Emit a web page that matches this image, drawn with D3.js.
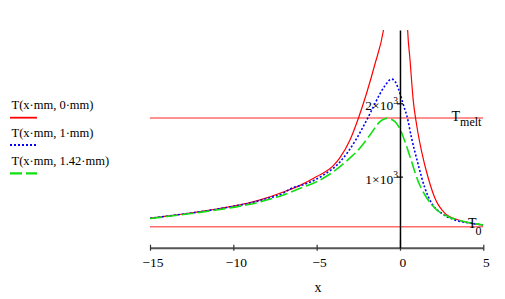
<!DOCTYPE html>
<html lang="en">
<head>
    <meta charset="UTF-8">
    <title>Temperature profiles T(x, y)</title>
    <script src="https://d3js.org/d3.v7.min.js"></script>
    <style>
        body {
            margin: 0;
            background: #fff;
        }
        svg {
            display: block;
            font-family: "Liberation Serif", "Times New Roman", serif;
        }
    </style>
</head>
<body>
    <svg width="505" height="299"></svg>

    <script>
        // values: x in mm, T in K
        const redLeftX  = [-15, -14, -13, -12, -11, -10, -9, -8, -7, -6, -5, -4, -3.6, -3, -2.5, -2, -1.5, -1, -0.8];
        const redLeftT  = [431, 460, 490, 522, 558, 598, 645, 710, 790, 880, 1000, 1150, 1260, 1500, 1793, 2140, 2536, 2986, 3300];
        const redRightX = [0.4, 0.46, 0.6, 0.8, 1.0, 1.3, 1.7, 2.1, 2.7, 3.5, 4.3, 5.0];
        const redRightT = [3350, 3000, 2600, 2030, 1704, 1340, 977, 704, 499, 408, 363, 340];

        const blueX = [-15, -14, -13, -12, -11, -10, -9, -8, -7, -6.6, -5.6, -4.6, -3.6, -2.6, -2, -1.6, -1.2, -0.9, -0.5, -0.3, -0.1, 0.1, 0.3, 0.4, 0.7, 1.1, 1.5, 1.9, 2.5, 3.3, 4.3, 5.0];
        const blueT = [431, 460, 489, 520, 555, 594, 640, 700, 775, 830, 905, 1020, 1200, 1520, 1770, 1950, 2130, 2240, 2330, 2300, 2200, 2060, 1910, 1840, 1522, 1158, 840, 636, 499, 408, 363, 340];

        const greenX = [-15, -14, -13, -12, -11, -10, -9, -8, -7, -6, -5, -4, -3, -2.6, -1.8, -1.2, -0.8, -0.3, 0, 0.3, 0.7, 1.1, 1.5, 2.1, 2.9, 3.9, 5.0];
        const greenT = [428, 455, 483, 512, 545, 580, 622, 681, 749, 840, 930, 1065, 1255, 1340, 1568, 1749, 1795, 1749, 1650, 1476, 1203, 930, 749, 568, 453, 385, 340];

        const legendNames = ["T(x\u00b7mm, 0\u00b7mm)", "T(x\u00b7mm, 1\u00b7mm)", "T(x\u00b7mm, 1.42\u00b7mm)"];

        const T_melt = 1800;
        const T_0 = 316;

        const xTicks = [-15, -10, -5, 0, 5];
        const yTicks = [1000, 2000];

        const svg = d3.select("svg");

        const x = d3.scaleLinear().domain([-15, 5]).range([150, 483.3]);
        const y = d3.scaleLinear().domain([30, 3000]).range([247.7, 30]);

        function pts(xs, ts) {
            return xs.map((v, i) => [v, ts[i]]);
        }

        const series = [
            { name: legendNames[0], color: "#ff0000", width: 1.2, dash: null, parts: [pts(redLeftX, redLeftT), pts(redRightX, redRightT)] },
            { name: legendNames[1], color: "#0000ff", width: 1.6, dash: "2,2", parts: [pts(blueX, blueT)] },
            { name: legendNames[2], color: "#10e010", width: 1.6, dash: "12,4", parts: [pts(greenX, greenT)] }
        ];

        svg.append("defs").append("clipPath")
            .attr("id", "plot-clip")
            .append("rect")
            .attr("x", x.range()[0])
            .attr("y", y.range()[1])
            .attr("width", x.range()[1] - x.range()[0])
            .attr("height", y.range()[0] - y.range()[1]);

        const plot = svg.append("g").attr("clip-path", "url(#plot-clip)");

        // T_melt and T0 markers
        [T_melt, T_0].forEach(t => {
            plot.append("line")
                .attr("x1", x(-15)).attr("x2", x(5))
                .attr("y1", y(t)).attr("y2", y(t))
                .attr("stroke", "#ff6b6b")
                .attr("stroke-width", 1.6);
        });

        const line = d3.line()
            .x(d => x(d[0]))
            .y(d => y(d[1]))
            .curve(d3.curveMonotoneX);

        series.forEach(s => {
            s.parts.forEach(p => {
                plot.append("path")
                    .datum(p)
                    .attr("d", line)
                    .attr("fill", "none")
                    .attr("stroke", s.color)
                    .attr("stroke-width", s.width)
                    .attr("stroke-dasharray", s.dash);
            });
        });

        // x axis
        const xAxis = svg.append("g")
            .attr("transform", `translate(0,${y(30)})`)
            .call(d3.axisBottom(x).tickValues(xTicks).tickSize(0).tickSizeOuter(0));
        xAxis.select(".domain").attr("stroke", "#555").attr("stroke-width", 2);
        xAxis.selectAll(".tick line")
            .attr("y1", d => d === 0 ? -8 : -3)
            .attr("y2", 3)
            .attr("stroke", "#333")
            .attr("stroke-width", 1.2);
        xAxis.selectAll(".tick text")
            .attr("y", 19)
            .attr("dy", null)
            .attr("dx", 2.5)
            .attr("fill", "#000")
            .attr("font-size", 13.5)
            .attr("font-family", "Liberation Serif, serif");

        svg.append("text")
            .attr("x", 318)
            .attr("y", 291.5)
            .attr("text-anchor", "middle")
            .attr("font-size", 14)
            .text("x");

        // y axis through x = 0
        const yAxis = svg.append("g")
            .attr("transform", `translate(${x(0)},0)`)
            .call(d3.axisLeft(y).tickValues(yTicks).tickSize(0).tickSizeOuter(0));
        yAxis.select(".domain").attr("stroke", "#000").attr("stroke-width", 1.5);
        yAxis.selectAll(".tick line")
            .attr("x1", -3).attr("x2", 3)
            .attr("stroke", "#000")
            .attr("stroke-width", 1.2);
        yAxis.selectAll(".tick text").each(function(d) {
            const t = d3.select(this)
                .attr("x", -2)
                .attr("y", 6.5)
                .attr("dy", null)
                .attr("fill", "#000")
                .attr("font-size", 13.5)
                .attr("font-family", "Liberation Serif, serif")
                .text(null);
            t.append("tspan").text(`${d / 1000}\u00d710`);
            t.append("tspan").attr("dy", -6).attr("font-size", 9.5).text("3");
        });

        // marker labels
        const tm = svg.append("text").attr("x", 451.5).attr("y", 120.5).attr("font-size", 14);
        tm.append("tspan").text("T");
        tm.append("tspan").attr("dy", 5).attr("font-size", 12).text("melt");

        const t0 = svg.append("text").attr("x", 468).attr("y", 228).attr("font-size", 14);
        t0.append("tspan").text("T");
        t0.append("tspan").attr("dx", -1).attr("dy", 7).attr("font-size", 12).text("0");

        // legend
        const legend = svg.append("g");
        const legendY = [109, 137, 165];
        const legendLineY = [117.7, 145, 173.3];
        series.forEach((s, i) => {
            legend.append("text")
                .attr("x", 11.5)
                .attr("y", legendY[i])
                .attr("font-size", 12.5)
                .text(s.name);
            legend.append("line")
                .attr("x1", 10).attr("x2", 37)
                .attr("y1", legendLineY[i]).attr("y2", legendLineY[i])
                .attr("stroke", s.color)
                .attr("stroke-width", s.width + 0.6)
                .attr("stroke-dasharray", s.dash);
        });
    </script>
</body>
</html>
